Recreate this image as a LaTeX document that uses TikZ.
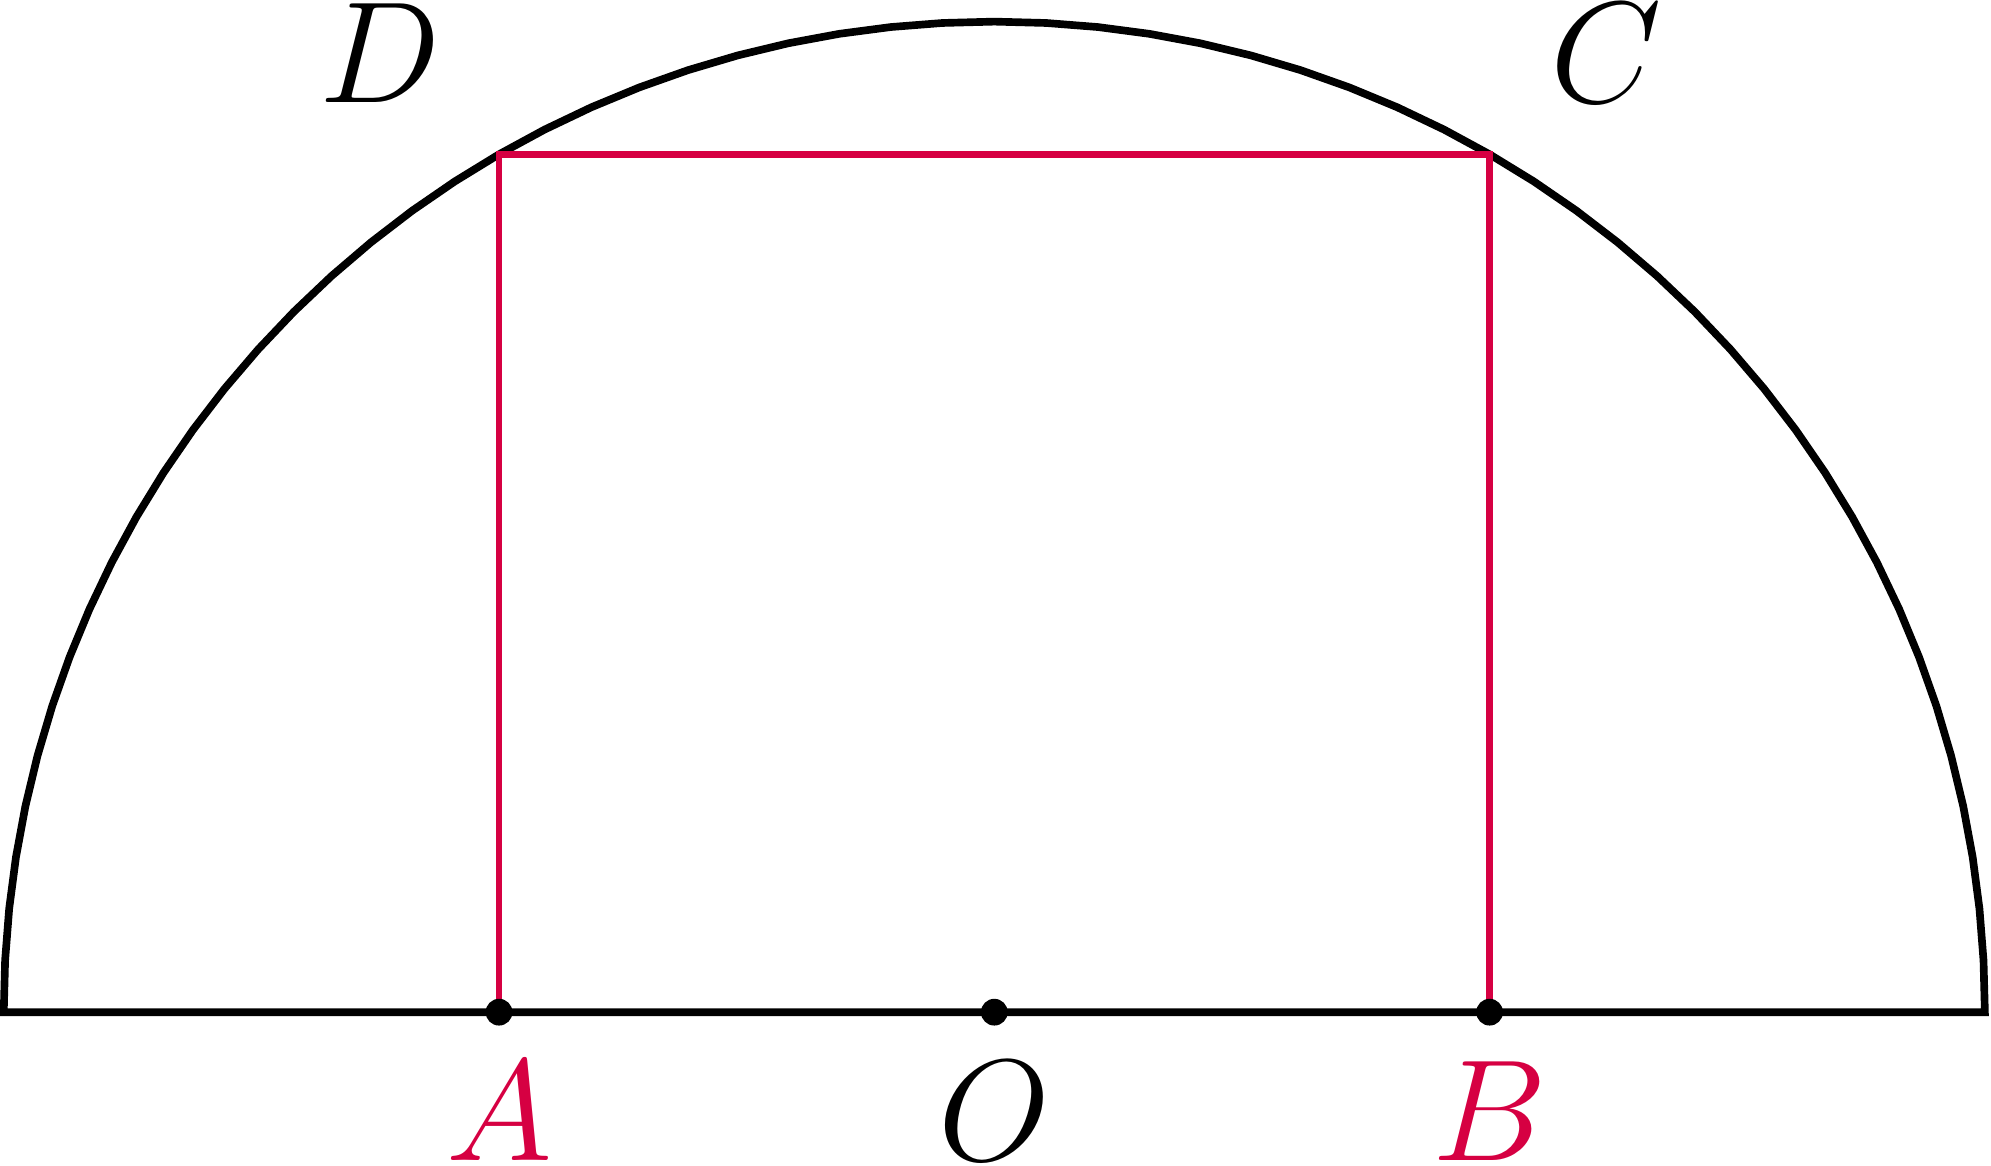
\documentclass[tikz,border=0pt]{standalone}
\usepackage{amsmath,amssymb}
\usetikzlibrary{positioning}
\definecolor{rectred}{RGB}{214,0,66}

\begin{document}
\begin{tikzpicture}[line join=miter,
    lbl/.style={font=\fontsize{20.5}{24}\selectfont,inner sep=0pt},
    pt/.style={circle,fill=black,inner sep=0pt,minimum size=0.135cm}]
  \useasboundingbox (-5.019,-0.772) rectangle (5.031,5.109);
  \coordinate (O) at (0,0);
  \coordinate (A) at (-2.5,0);
  \coordinate (B) at (2.5,0);
  \coordinate (C) at (60:5);
  \coordinate (D) at (120:5);
  % semicircle and diameter
  \draw[line width=1.1pt] plot[domain=0:180,samples=61] ({5*cos(\x)},{5*sin(\x)}) -- cycle;
  \draw[rectred,line width=0.95pt] (A) -- (D) -- (C) -- (B);
  \node[pt] (dA) at (A) {};
  \node[pt] (dO) at (O) {};
  \node[pt] (dB) at (B) {};
  \node[lbl,rectred] (labA) at (-2.5,-0.5) {$A$};
  \node[lbl] (labO) at (0,-0.5) {$O$};
  \node[lbl,rectred] (labB) at (2.5,-0.5) {$B$};
  \node[lbl] (labC) at (3.09,4.84) {$C$};
  \node[lbl] (labD) at (-3.1,4.84) {$D$};
\end{tikzpicture}
\end{document}
